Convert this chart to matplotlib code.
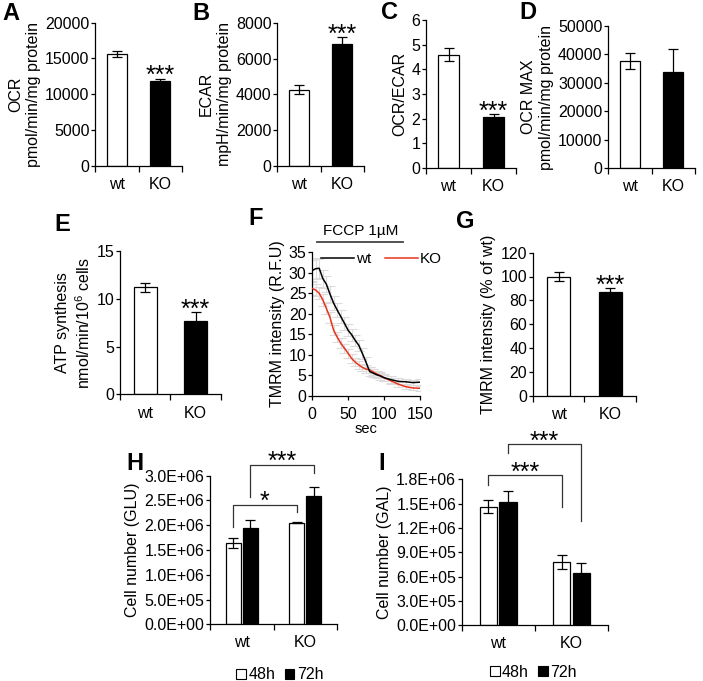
import numpy as np
import matplotlib
matplotlib.use("Agg")
import matplotlib.pyplot as plt
from matplotlib.patches import Patch
from matplotlib.lines import Line2D
from matplotlib.ticker import FuncFormatter

plt.rcParams['font.family'] = ['Liberation Sans', 'DejaVu Sans']
plt.rcParams['mathtext.fontset'] = 'custom'
plt.rcParams['mathtext.rm'] = 'Liberation Sans'
plt.rcParams['axes.linewidth'] = 0.9

W, HH = 703, 681

groups = ['wt', 'KO']

# single-bar panels: (wt, KO) means and errors
ocr = [15600, 11800]
ocr_err = [400, 300]
ecar = [4250, 6850]
ecar_err = [250, 350]
ratio = [4.6, 2.05]
ratio_err = [0.25, 0.12]
ocr_max = [37800, 33700]
ocr_max_err = [2800, 8300]
atp = [11.2, 7.7]
atp_err = [0.5, 0.9]
tmrm_pct = [100, 87]
tmrm_pct_err = [4, 3]

# panel F: TMRM traces
t_sec = [0, 5, 10, 15, 20, 25, 30, 35, 40, 45, 50, 55, 60, 65, 70, 75, 80,
         85, 90, 95, 100, 110, 120, 130, 140, 150]
tmrm_wt = [30.5, 31.0, 31.1, 28.6, 27.2, 24.8, 22.6, 20.9, 19.3, 17.7, 16.0,
           14.9, 13.5, 12.3, 10.3, 8.2, 5.9, 5.5, 5.1, 4.8, 4.4, 3.9, 3.5,
           3.4, 3.2, 3.3]
tmrm_ko = [26.2, 25.8, 25.0, 23.4, 21.3, 19.1, 16.0, 14.3, 12.8, 11.6, 10.4,
           9.1, 8.2, 7.5, 6.9, 6.5, 6.3, 5.8, 5.3, 4.9, 4.4, 3.6, 2.8, 2.2,
           1.9, 1.8]
tmrm_wt_err = [2.5, 2.5, 2.3, 2.2, 2.0, 2.0, 1.8, 1.8, 1.6, 1.6, 1.5, 1.5,
               1.4, 1.4, 1.3, 1.2, 1.0, 1.0, 0.9, 0.9, 0.8, 0.8, 0.7, 0.7,
               0.7, 0.7]
tmrm_ko_err = [1.5, 1.5, 1.5, 1.4, 1.4, 1.3, 1.3, 1.2, 1.2, 1.1, 1.1, 1.0,
               1.0, 0.9, 0.9, 0.9, 0.8, 0.8, 0.8, 0.7, 0.7, 0.7, 0.6, 0.6,
               0.6, 0.6]
fccp_span = [7, 127]

# panels H / I: cell number, 48h and 72h
times = ['48h', '72h']
glu_48 = [1.65e6, 2.05e6]
glu_48_err = [0.1e6, 0.01e6]
glu_72 = [1.95e6, 2.6e6]
glu_72_err = [0.16e6, 0.18e6]
gal_48 = [1.46e6, 7.8e5]
gal_48_err = [0.08e6, 0.9e5]
gal_72 = [1.52e6, 6.5e5]
gal_72_err = [0.13e6, 1.2e5]

# significance brackets: (x left, x right, top, left foot, right foot, label)
glu_brackets = [(0.365, 1.365, 2.41e6, 1.97e6, 2.27e6, '*'),
                (0.635, 1.635, 3.22e6, 2.58e6, 3.06e6, '***')]
gal_brackets = [(0.365, 1.365, 1.85e6, 1.73e6, 1.46e6, '***'),
                (0.635, 1.635, 2.23e6, 2.12e6, 1.28e6, '***')]


def rect(x0, x1, y0, y1):
    return [x0 / W, 1 - y1 / HH, (x1 - x0) / W, (y1 - y0) / HH]


def style(ax):
    ax.spines['top'].set_visible(False)
    ax.spines['right'].set_visible(False)
    ax.tick_params(axis='y', direction='out', length=3, width=0.9, pad=1,
                   labelsize=11.5)


def cat_axis(ax):
    ax.set_xlim(0, 2)
    ax.set_xticks([0.5, 1.5])
    ax.set_xticklabels(groups)
    ax.set_xticks([0, 1, 2], minor=True)
    ax.tick_params(axis='x', which='major', length=0, pad=8, labelsize=11.5)
    ax.tick_params(axis='x', which='minor', length=4, width=0.9,
                   direction='out')


def stars(ax, x, y, label='***', off=-3):
    ax.annotate(label, xy=(x, y), xytext=(0, off), textcoords='offset points',
                ha='center', va='baseline', fontsize=18, annotation_clip=False)


def bar_panel(r, vals, errs, top, step, ylabel, sig=False):
    ax = fig.add_axes(rect(*r))
    style(ax)
    cat_axis(ax)
    ax.bar([0.5, 1.5], vals, width=0.45, color=['white', 'black'],
           edgecolor='black', linewidth=0.9, zorder=2)
    ax.errorbar([0.5, 1.5], vals, yerr=errs, fmt='none', ecolor='black',
                elinewidth=0.9, capsize=3.5, capthick=0.9, zorder=3)
    ax.set_ylim(0, top)
    ax.set_yticks(np.arange(0, top + step / 2, step))
    ax.set_ylabel(ylabel, fontsize=11.5, labelpad=3, linespacing=1.25)
    if sig:
        stars(ax, 1.5, vals[1] + errs[1])
    return ax


def letter(x, y, s):
    fig.text(x / W, 1 - y / HH, s, fontsize=17, fontweight='bold',
             ha='left', va='top')


fig = plt.figure(figsize=(W / 100, HH / 100), dpi=100)

# row 1
bar_panel((95, 182, 22.7, 165.7), ocr, ocr_err, 20000, 5000,
          'OCR\npmol/min/mg protein', sig=True)
bar_panel((277, 364, 23, 165.7), ecar, ecar_err, 8000, 2000,
          'ECAR\nmpH/min/mg protein', sig=True)
bar_panel((426, 516, 20, 168), ratio, ratio_err, 6, 1, 'OCR/ECAR', sig=True)
bar_panel((608, 695, 26, 168), ocr_max, ocr_max_err, 50000, 10000,
          'OCR MAX\npmol/min/mg protein')

# row 2
bar_panel((120, 220.7, 251, 394.5), atp, atp_err, 15, 5,
          'ATP synthesis\nnmol/min/10$^{6}$ cells', sig=True)
bar_panel((532.8, 636, 252.7, 395.5), tmrm_pct, tmrm_pct_err, 120, 20,
          'TMRM intensity (% of wt)', sig=True)

axf = fig.add_axes(rect(312, 420, 252.3, 395.7))
style(axf)
axf.tick_params(axis='x', direction='out', length=3, width=0.9, pad=5,
                labelsize=11.5)
axf.errorbar(t_sec, tmrm_wt, yerr=tmrm_wt_err, fmt='none', ecolor='#dcdcdc',
             elinewidth=0.8, capsize=3.5, capthick=0.8, zorder=1)
axf.errorbar(t_sec, tmrm_ko, yerr=tmrm_ko_err, fmt='none', ecolor='#dcdcdc',
             elinewidth=0.8, capsize=3.5, capthick=0.8, zorder=1)
axf.plot(t_sec, tmrm_ko, color='#e8341c', lw=1.1, zorder=3)
axf.plot(t_sec, tmrm_wt, color='black', lw=1.1, zorder=4)
axf.set_xlim(0, 150)
axf.set_ylim(0, 35)
axf.set_xticks([0, 50, 100, 150])
axf.set_yticks(range(0, 36, 5))
axf.set_xlabel('sec', fontsize=10.5, labelpad=0)
axf.set_ylabel('TMRM intensity (R.F.U)', fontsize=11.5, labelpad=3)
axf.plot(fccp_span, [37.6, 37.6], color='#444444', lw=1.3, clip_on=False)
axf.text(sum(fccp_span) / 2, 38.4, 'FCCP 1\u00b5M', ha='center',
         va='bottom', fontsize=11)
hl = [Line2D([], [], color='black', lw=1.1, label='wt'),
      Line2D([], [], color='#e8341c', lw=1.1, label='KO')]
axf.legend(handles=hl, loc='center left', bbox_to_anchor=(0.08, 0.953),
           ncol=2, frameon=False, fontsize=11, handlelength=2.2,
           handletextpad=0.1, columnspacing=0.9, borderpad=0,
           borderaxespad=0)


# row 3
def grouped_panel(r, v48, e48, v72, e72, top, step, ylabel, brackets,
                  leg_xy):
    ax = fig.add_axes(rect(*r))
    style(ax)
    cat_axis(ax)
    x = np.array([0.5, 1.5])
    ax.bar(x - 0.135, v48, width=0.24, color='white', edgecolor='black',
           linewidth=0.9, zorder=2)
    ax.bar(x + 0.135, v72, width=0.24, color='black', edgecolor='black',
           linewidth=0.9, zorder=2)
    ax.errorbar(x - 0.135, v48, yerr=e48, fmt='none', ecolor='black',
                elinewidth=0.9, capsize=3.5, capthick=0.9, zorder=3)
    ax.errorbar(x + 0.135, v72, yerr=e72, fmt='none', ecolor='black',
                elinewidth=0.9, capsize=3.5, capthick=0.9, zorder=3)
    ax.set_ylim(0, top)
    ax.set_yticks(np.arange(0, top + step / 2, step))
    ax.yaxis.set_major_formatter(FuncFormatter(lambda v, p: format(v, '.1E')))
    ax.set_ylabel(ylabel, fontsize=11.5, labelpad=3)
    for xl, xr, yt, yl, yr, lab in brackets:
        ax.plot([xl, xl, xr, xr], [yl, yt, yt, yr], color='#333333', lw=0.9,
                clip_on=False)
        stars(ax, (xl + xr) / 2, yt, lab, off=-3)
    hp = [Patch(facecolor='white', edgecolor='black', lw=0.8, label=times[0]),
          Patch(facecolor='black', edgecolor='black', lw=0.8, label=times[1])]
    ax.legend(handles=hp, loc='center', bbox_to_anchor=leg_xy, ncol=2,
              frameon=False, fontsize=11.5, handlelength=0.6,
              handleheight=0.6, handletextpad=0.15, columnspacing=0.6,
              borderpad=0)
    return ax


grouped_panel((210, 337, 475.7, 624.3), glu_48, glu_48_err, glu_72,
              glu_72_err, 3.0e6, 5e5, 'Cell number (GLU)', glu_brackets,
              (0.55, -0.34))
grouped_panel((461.7, 608, 479.3, 625.3), gal_48, gal_48_err, gal_72,
              gal_72_err, 1.8e6, 3e5, 'Cell number (GAL)', gal_brackets,
              (0.49, -0.32))

letter(2, 2, 'A')
letter(192, 2, 'B')
letter(381, 1, 'C')
letter(519, 1, 'D')
letter(54, 213, 'E')
letter(248, 207, 'F')
letter(456, 210, 'G')
letter(126, 452, 'H')
letter(378, 452, 'I')

fig.savefig('out.png', dpi=100)
